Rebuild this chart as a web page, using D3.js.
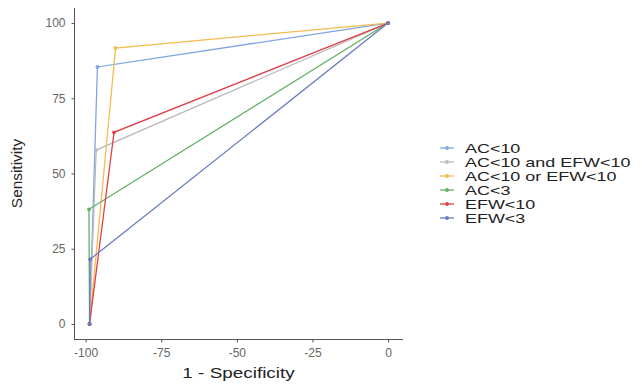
<!DOCTYPE html>
<html>
<head>
<meta charset="utf-8">
<script src="https://cdn.jsdelivr.net/npm/d3@7"></script>
<style>
  body { margin: 0; background: #fff; }
  text { font-family: "Liberation Sans", Arial, sans-serif; }
</style>
</head>
<body>
<div id="chart"></div>
<script>
// series names, in legend order
var seriesNames = ["AC<10", "AC<10 and EFW<10", "AC<10 or EFW<10", "AC<3", "EFW<10", "EFW<3"];
var seriesColors = ["#80a6e2", "#bcbcbc", "#f4bb50", "#5db262", "#e23e48", "#6a7bc0"];

// 1 - specificity / sensitivity for each series (start, cut-off, end)
var specAC10 = [-98.7, -96.1, 0];
var sensAC10 = [0, 85.4, 100];
var specAnd = [-98.7, -96.5, 0];
var sensAnd = [0, 57.8, 100];
var specOr = [-98.7, -90.1, 0];
var sensOr = [0, 91.7, 100];
var specAC3 = [-98.7, -98.9, 0];
var sensAC3 = [0, 38.1, 100];
var specEFW10 = [-98.7, -90.6, 0];
var sensEFW10 = [0, 63.7, 100];
var specEFW3 = [-98.7, -98.5, 0];
var sensEFW3 = [0, 21.5, 100];

var xTicks = [-100, -75, -50, -25, 0];
var yTicks = [0, 25, 50, 75, 100];

var specs = [specAC10, specAnd, specOr, specAC3, specEFW10, specEFW3];
var senss = [sensAC10, sensAnd, sensOr, sensAC3, sensEFW10, sensEFW3];

var series = seriesNames.map(function (name, i) {
    return {
        name: name,
        color: seriesColors[i],
        values: specs[i].map(function (s, j) { return { x: s, y: senss[i][j] }; })
    };
});

var w = 642, h = 385;
var svg = d3.select("#chart").append("svg")
    .attr("width", w)
    .attr("height", h);

// ggplot-like 5% expansion
var allX = d3.merge(specs), allY = d3.merge(senss);
var xMin = d3.min(allX), xMax = d3.max(allX);
var yMin = d3.min(allY), yMax = d3.max(allY);
var xPad = (xMax - xMin) * 0.05, yPad = (yMax - yMin) * 0.05;

var x = d3.scaleLinear().domain([xMin - xPad, xMax + xPad]).range([74, 403]);
var y = d3.scaleLinear().domain([yMin - yPad, yMax + yPad]).range([339, 8]);

var plainFmt = function (d) { return String(d); }; // hyphen minus like the reference

// axes
var xAxis = svg.append("g")
    .attr("transform", "translate(0,339.5)")
    .call(d3.axisBottom(x).tickValues(xTicks).tickFormat(plainFmt).tickSize(3).tickPadding(6));
var yAxis = svg.append("g")
    .attr("transform", "translate(74.5,0)")
    .call(d3.axisLeft(y).tickValues(yTicks).tickFormat(plainFmt).tickSize(3).tickPadding(6));

[xAxis, yAxis].forEach(function (a) {
    a.select(".domain").attr("stroke", "#555").attr("stroke-width", 1);
    a.selectAll(".tick line").attr("stroke", "#555");
    a.selectAll(".tick text")
        .attr("fill", "#666")
        .style("font-size", "12px")
        .style("font-family", "'Liberation Sans', Arial, sans-serif");
});
// remove the outer tick ends of the domain path
xAxis.select(".domain").attr("d", "M" + x.range()[0] + ",0H" + x.range()[1]);
yAxis.select(".domain").attr("d", "M0," + y.range()[0] + "V" + y.range()[1]);

// axis titles (reference text is wide, so stretch horizontally)
svg.append("text")
    .attr("transform", "translate(" + ((x.range()[0] + x.range()[1]) / 2) + ",378) scale(1.35,1)")
    .attr("text-anchor", "middle")
    .style("font-size", "14px")
    .attr("fill", "#222")
    .text("1 - Specificity");

svg.append("text")
    .attr("transform", "translate(22," + ((y.range()[0] + y.range()[1]) / 2) + ") rotate(-90) scale(1.1,1)")
    .attr("text-anchor", "middle")
    .style("font-size", "14px")
    .attr("fill", "#222")
    .text("Sensitivity");

// lines and points
var line = d3.line()
    .x(function (d) { return x(d.x); })
    .y(function (d) { return y(d.y); });

var groups = svg.selectAll("g.series")
    .data(series)
    .enter()
    .append("g")
    .attr("class", "series");

groups.append("path")
    .attr("fill", "none")
    .attr("stroke", function (d) { return d.color; })
    .attr("stroke-width", 1.3)
    .attr("d", function (d) { return line(d.values); });

groups.selectAll("circle")
    .data(function (d) { return d.values.map(function (v) { return { x: v.x, y: v.y, color: d.color }; }); })
    .enter()
    .append("circle")
    .attr("cx", function (d) { return x(d.x); })
    .attr("cy", function (d) { return y(d.y); })
    .attr("r", 1.9)
    .attr("fill", function (d) { return d.color; });

// legend
var legend = svg.append("g").attr("transform", "translate(440,148)");
var items = legend.selectAll("g")
    .data(series)
    .enter()
    .append("g")
    .attr("transform", function (d, i) { return "translate(0," + (i * 14) + ")"; });

items.append("line")
    .attr("x1", 0).attr("x2", 14)
    .attr("stroke", function (d) { return d.color; })
    .attr("stroke-width", 1.3);
items.append("circle")
    .attr("cx", 7).attr("r", 1.9)
    .attr("fill", function (d) { return d.color; });
items.append("text")
    .attr("transform", "translate(25,0) scale(1.38,1)")
    .attr("dy", "0.36em")
    .style("font-size", "13px")
    .attr("fill", "#222")
    .text(function (d) { return d.name; });
</script>
</body>
</html>
